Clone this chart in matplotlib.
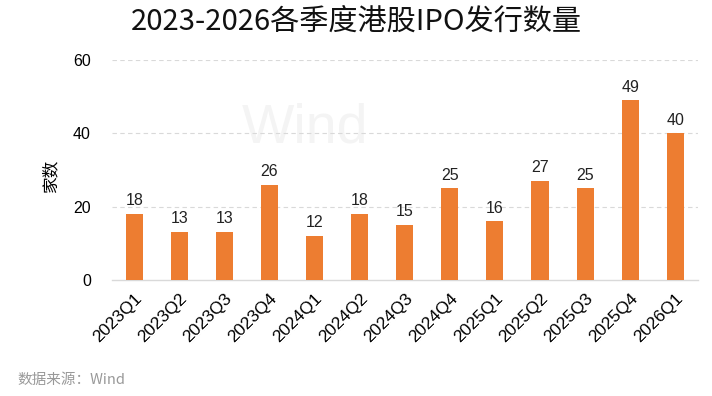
import numpy as np
import matplotlib
matplotlib.use("Agg")
from matplotlib import pyplot as plt

plt.rcParams['font.family'] = ['Noto Sans CJK SC', 'DejaVu Sans']

quarters = ["2023Q1", "2023Q2", "2023Q3", "2023Q4",
            "2024Q1", "2024Q2", "2024Q3", "2024Q4",
            "2025Q1", "2025Q2", "2025Q3", "2025Q4", "2026Q1"]
counts = [18, 13, 13, 26, 12, 18, 15, 25, 16, 27, 25, 49, 40]
yticks = [0, 20, 40, 60]

bar_color = "#ED7D31"
latin = ['Liberation Sans', 'DejaVu Sans']

fig = plt.figure(figsize=(7.12, 3.96), dpi=100)
ax = fig.add_axes([0.157, 0.293, 0.823, 0.555])

# faint watermark behind the bars
ax.text(0.33, 0.69, "Wind", transform=ax.transAxes, ha="center", va="center",
        fontsize=40, color="#f4f4f4", zorder=0, family=latin)

x = np.arange(len(quarters))
ax.bar(x, counts, width=0.38, color=bar_color, zorder=3)
for xi, v in zip(x, counts):
    ax.text(xi, v + 1.6, str(v), ha="center", va="bottom", fontsize=11.5,
            family=latin, color="#222222")

ax.set_xlim(-0.5, len(quarters) - 0.5)
ax.set_ylim(0, 60)
ax.set_yticks(yticks)
ax.set_yticklabels([str(t) for t in yticks], fontsize=11.5, family=latin)
ax.set_xticks(x)
ax.set_xticklabels(quarters, rotation=45, ha="right", rotation_mode="anchor",
                   fontsize=12.5, family=latin)
ax.tick_params(axis="x", length=0, pad=8)
ax.tick_params(axis="y", length=0, pad=15)

for t in yticks[1:]:
    ax.axhline(t, color="#d9d9d9", linewidth=0.8, linestyle=(0, (4, 3)), zorder=1)
for s in ["top", "right", "left"]:
    ax.spines[s].set_visible(False)
ax.spines["bottom"].set_color("#d9d9d9")
ax.spines["bottom"].set_linewidth(1.0)

ax.set_ylabel("家数", fontsize=12)
ax.yaxis.set_label_coords(-0.089, 0.477)

fig.text(0.5, 0.945, "2023-2026各季度港股IPO发行数量", ha="center", va="center",
         fontsize=21, color="#111111")
fig.text(0.025, 0.04, "数据来源：Wind", ha="left", va="center",
         fontsize=10.5, color="#999999")

fig.savefig("out.png", dpi=100)
